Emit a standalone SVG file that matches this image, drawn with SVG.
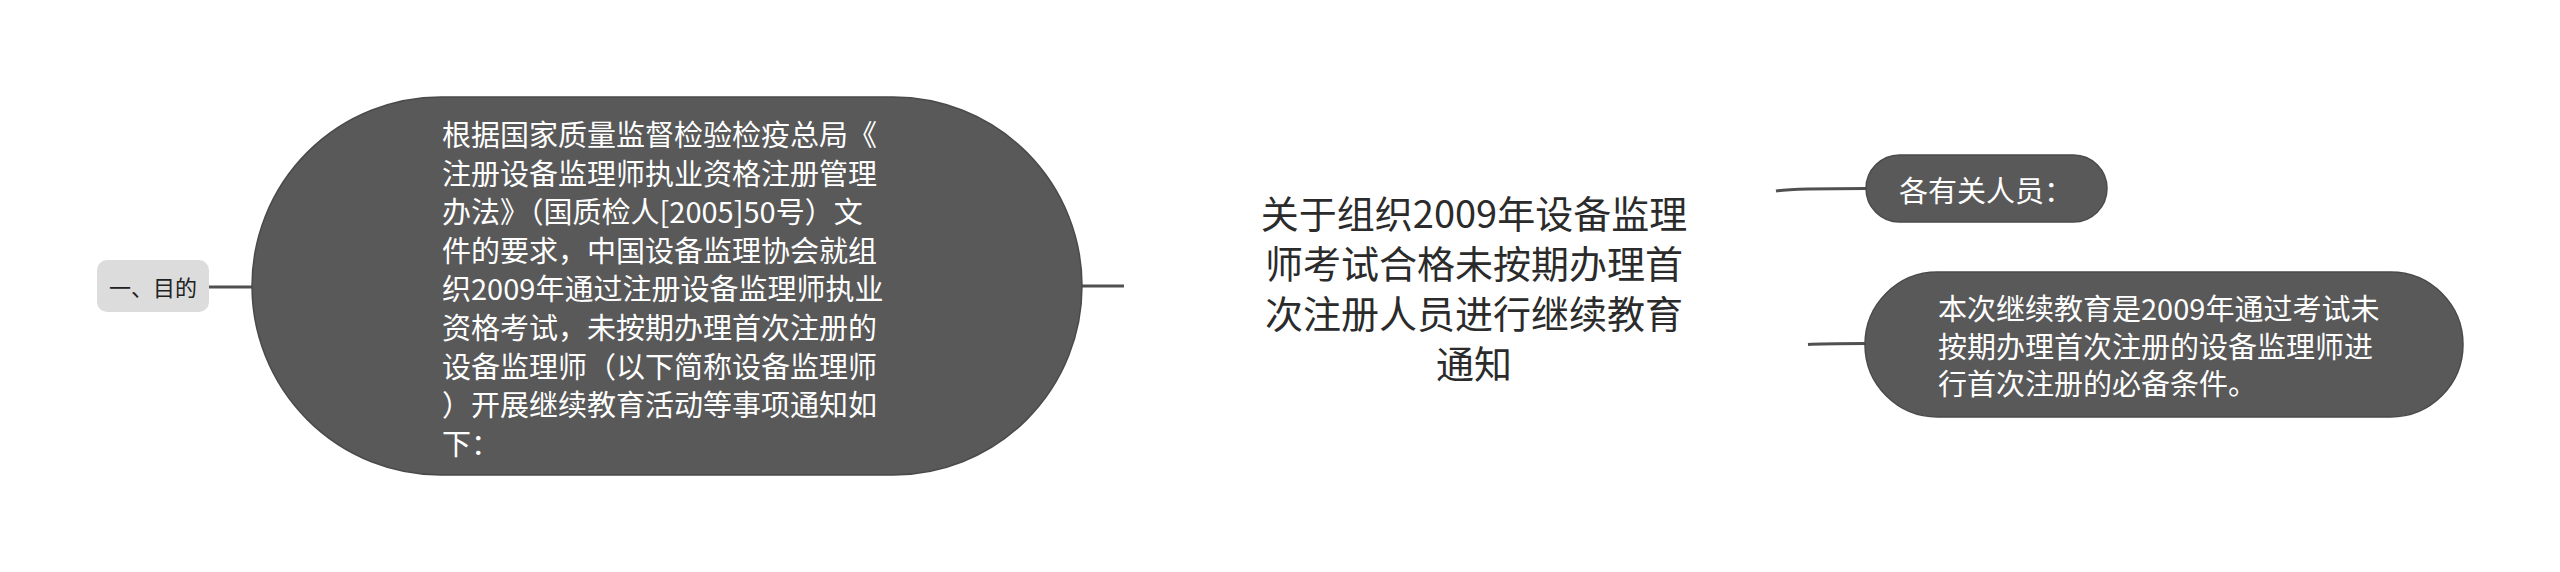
<svg xmlns="http://www.w3.org/2000/svg" width="2560" height="572" viewBox="0 0 2560 572">
<style>
.pill{fill:#595959;stroke:#4a4a4a;stroke-width:1.5}
.wt{fill:#ffffff;font-family:"Microsoft YaHei","Noto Sans CJK SC","Noto Sans",sans-serif;font-size:29px;dominant-baseline:central}
.title{fill:#2b2b2b;font-family:"Microsoft YaHei","Noto Sans CJK SC","Noto Sans",sans-serif;font-size:38px;dominant-baseline:central;text-anchor:middle}
.lbl{fill:#222222;font-family:"Microsoft YaHei","Noto Sans CJK SC","Noto Sans",sans-serif;font-size:22px;dominant-baseline:central;text-anchor:middle}
.conn{fill:none;stroke:#505050;stroke-width:3;stroke-linecap:butt}
</style>
<rect width="2560" height="572" fill="#ffffff"/>
<g id="connectors">
<path class="conn" d="M209,287 L252,287"/>
<path class="conn" d="M1082,286 L1124,286"/>
<path class="conn" d="M1776,191 Q1790,188.5 1867,188.5"/>
<path class="conn" d="M1808,344.5 Q1820,343.5 1866,343.5"/>
</g>
<g id="node-root">
<text class="title" x="1474" y="211">关于组织2009年设备监理</text>
<text class="title" x="1474" y="261">师考试合格未按期办理首</text>
<text class="title" x="1474" y="311">次注册人员进行继续教育</text>
<text class="title" x="1474" y="361">通知</text>
</g>
<g id="node-basis">
<rect class="pill" x="252" y="97" width="830" height="378" rx="189" ry="189"/>
<text class="wt" x="442" y="133">根据国家质量监督检验检疫总局《</text>
<text class="wt" x="442" y="171.6">注册设备监理师执业资格注册管理</text>
<text class="wt" x="442" y="210.2">办法》（国质检人[2005]50号）文</text>
<text class="wt" x="442" y="248.8">件的要求，中国设备监理协会就组</text>
<text class="wt" x="442" y="287.4">织2009年通过注册设备监理师执业</text>
<text class="wt" x="442" y="326">资格考试，未按期办理首次注册的</text>
<text class="wt" x="442" y="364.6">设备监理师（以下简称设备监理师</text>
<text class="wt" x="442" y="403.2">）开展继续教育活动等事项通知如</text>
<text class="wt" x="442" y="441.8">下：</text>
</g>
<g id="node-purpose">
<rect x="97" y="260" width="112" height="52" rx="10" ry="10" fill="#dcdcdc"/>
<text class="lbl" x="153" y="286">一、目的</text>
</g>
<g id="node-recipients">
<rect class="pill" x="1866" y="155" width="241" height="67" rx="33.5" ry="33.5"/>
<text class="wt" x="1899" y="189">各有关人员：</text>
</g>
<g id="node-condition">
<rect class="pill" x="1865" y="272" width="598" height="145" rx="72.5" ry="72.5"/>
<text class="wt" x="1938" y="307">本次继续教育是2009年通过考试未</text>
<text class="wt" x="1938" y="345">按期办理首次注册的设备监理师进</text>
<text class="wt" x="1938" y="382">行首次注册的必备条件。</text>
</g>
</svg>
